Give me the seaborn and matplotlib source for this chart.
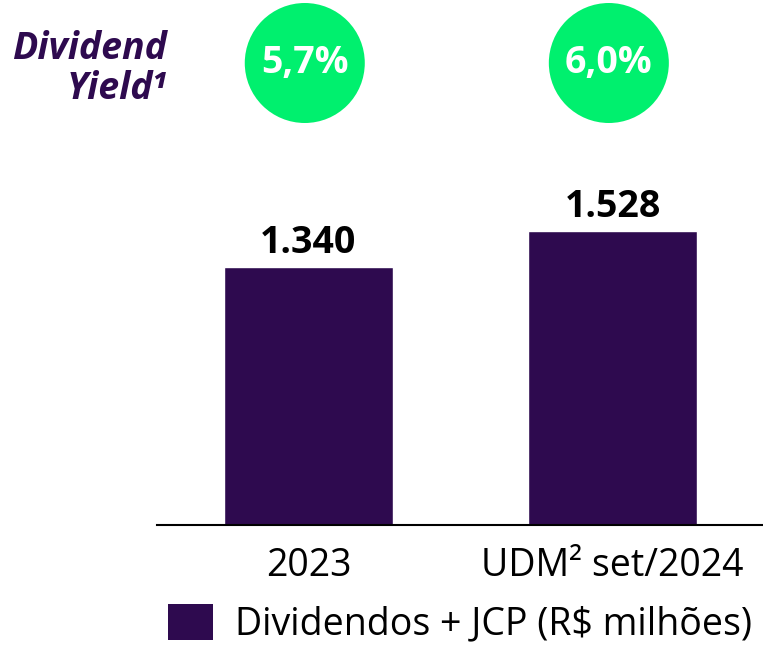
import matplotlib
matplotlib.use("Agg")
import matplotlib.pyplot as plt
import matplotlib.transforms as mtransforms
from matplotlib.patches import Ellipse, Patch
import seaborn as sns
import pandas as pd

categories = ["2023", "UDM² set/2024"]
values = [1340, 1528]
value_labels = ["1.340", "1.528"]
yields = ["5,7%", "6,0%"]
series_name = "Dividendos + JCP (R$ milhões)"

purple = "#2E0A4F"
green = "#00F06E"

sns.set_theme(style="white")
plt.rcParams["font.family"] = ["Open Sans", "DejaVu Sans"]

df = pd.DataFrame({"cat": categories, "val": values})

fig = plt.figure(figsize=(7.63, 6.45), dpi=100)
ax = fig.add_axes([157 / 763, 120 / 645, 606 / 763, 525 / 645])

sns.barplot(data=df, x="cat", y="val", color=purple, width=0.556,
            saturation=1, ax=ax, legend=False)

ax.set_xlim(-0.498, 1.495)
ax.set_ylim(0, 2728)
ax.set_xlabel("")
ax.set_ylabel("")
ax.set_yticks([])
for s in ["top", "right", "left"]:
    ax.spines[s].set_visible(False)
ax.spines["bottom"].set_color("black")
ax.spines["bottom"].set_linewidth(1.5)
ax.tick_params(axis="x", length=0, pad=16, labelsize=27, labelcolor="black")

# valores acima das barras
for i, (v, lab) in enumerate(zip(values, value_labels)):
    ax.text(i, v + 25, lab, ha="center", va="bottom", fontsize=27,
            fontweight="bold", color="black")

# círculos verdes com o dividend yield
trans = mtransforms.blended_transform_factory(ax.transData, ax.transAxes)
for i, y in enumerate(yields):
    e = Ellipse((i - 0.012, 0.88), width=120 / 304, height=120 / 525,
                transform=trans, facecolor=green, edgecolor="none",
                clip_on=False)
    ax.add_patch(e)
    ax.text(i - 0.012, 0.88, y, transform=trans, ha="center", va="center",
            fontsize=27, fontweight="bold", color="white")

fig.text(167 / 763, (645 - 49) / 645, "Dividend", ha="right", va="center",
         fontsize=27, fontweight="bold", fontstyle="italic", color=purple)
fig.text(167 / 763, (645 - 89) / 645, "Yield¹", ha="right", va="center",
         fontsize=27, fontweight="bold", fontstyle="italic", color=purple)

fs_px = 27 * 100 / 72
fig.legend(handles=[Patch(facecolor=purple, edgecolor="none", label=series_name)],
           loc="center left", bbox_to_anchor=(168 / 763, (645 - 624) / 645),
           frameon=False, fontsize=27, borderpad=0, borderaxespad=0,
           handlelength=45 / fs_px, handleheight=40 / fs_px,
           handletextpad=22 / fs_px, labelcolor="black")

fig.savefig("out.png", dpi=100)
